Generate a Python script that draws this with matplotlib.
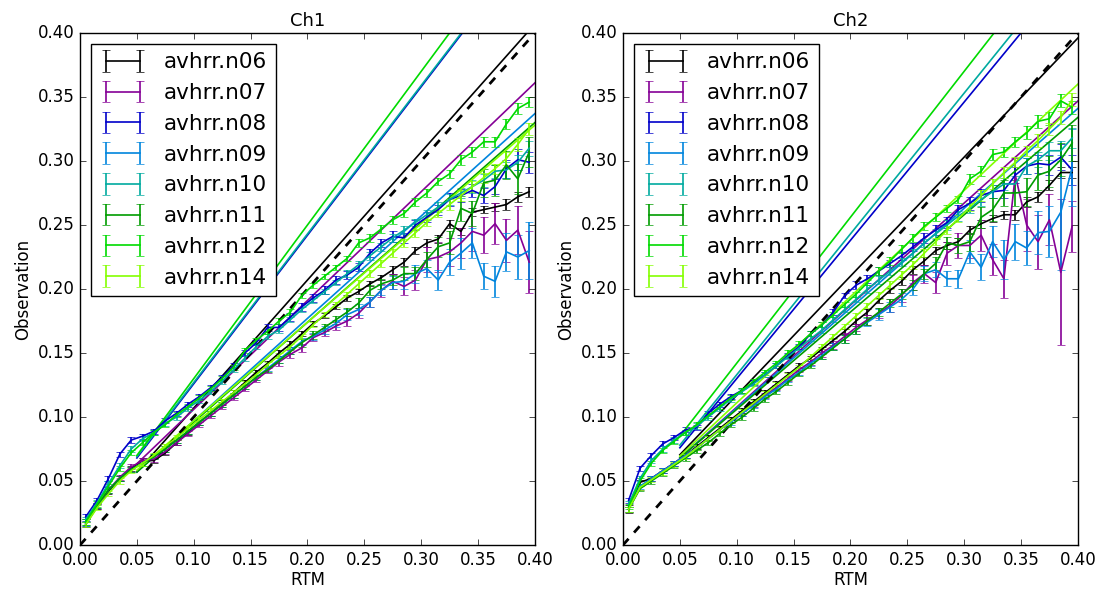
import matplotlib
matplotlib.use("Agg")
import matplotlib.pyplot as plt
import numpy as np

plt.style.use("classic")
plt.rcParams["font.family"] = ["DejaVu Sans"]
plt.rcParams["figure.facecolor"] = "white"

satellites = ["avhrr.n06", "avhrr.n07", "avhrr.n08", "avhrr.n09",
              "avhrr.n10", "avhrr.n11", "avhrr.n12", "avhrr.n14"]

# RTM bin centres
rtm = [0.005, 0.015, 0.025, 0.035, 0.045, 0.055, 0.065, 0.075, 0.085, 0.095,
       0.105, 0.115, 0.125, 0.135, 0.145, 0.155, 0.165, 0.175, 0.185, 0.195,
       0.205, 0.215, 0.225, 0.235, 0.245, 0.255, 0.265, 0.275, 0.285, 0.295,
       0.305, 0.315, 0.325, 0.335, 0.345, 0.355, 0.365, 0.375, 0.385, 0.395]

# ---- Ch1 observations ----
ch1_n06 = [0.016, 0.030, 0.042, 0.052, 0.060, 0.066, 0.066, 0.072, 0.080, 0.088,
           0.096, 0.103, 0.111, 0.119, 0.127, 0.135, 0.142, 0.150, 0.157, 0.165,
           0.173, 0.179, 0.186, 0.193, 0.198, 0.204, 0.209, 0.215, 0.221, 0.230,
           0.236, 0.239, 0.251, 0.245, 0.260, 0.262, 0.264, 0.266, 0.272, 0.276]
ch1_n07 = [0.017, 0.030, 0.043, 0.053, 0.061, 0.066, 0.067, 0.073, 0.080, 0.087,
           0.094, 0.101, 0.108, 0.115, 0.122, 0.129, 0.136, 0.143, 0.149, 0.154,
           0.162, 0.166, 0.171, 0.175, 0.181, 0.190, 0.199, 0.206, 0.202, 0.207,
           0.223, 0.225, 0.229, 0.236, 0.245, 0.242, 0.251, 0.238, 0.246, 0.221]
ch1_n08 = [0.022, 0.035, 0.052, 0.071, 0.082, 0.085, 0.089, 0.097, 0.103, 0.110,
           0.116, 0.123, 0.131, 0.140, 0.150, 0.158, 0.170, 0.170, 0.178, 0.186,
           0.193, 0.199, 0.207, 0.211, 0.217, 0.228, 0.236, 0.241, 0.240, 0.250,
           0.256, 0.262, 0.270, 0.273, 0.277, 0.273, 0.280, 0.294, 0.301, 0.299]
ch1_n09 = [0.017, 0.031, 0.043, 0.052, 0.059, 0.064, 0.069, 0.075, 0.082, 0.089,
           0.096, 0.103, 0.110, 0.117, 0.124, 0.131, 0.138, 0.145, 0.152, 0.159,
           0.163, 0.168, 0.173, 0.180, 0.184, 0.190, 0.199, 0.205, 0.206, 0.212,
           0.216, 0.207, 0.221, 0.228, 0.236, 0.210, 0.206, 0.229, 0.225, 0.230]
ch1_n10 = [0.020, 0.033, 0.048, 0.062, 0.075, 0.083, 0.088, 0.095, 0.100, 0.107,
           0.113, 0.120, 0.128, 0.137, 0.146, 0.155, 0.163, 0.168, 0.176, 0.184,
           0.191, 0.198, 0.205, 0.212, 0.219, 0.226, 0.233, 0.240, 0.246, 0.252,
           0.258, 0.264, 0.270, 0.275, 0.280, 0.285, 0.292, 0.293, 0.299, 0.310]
ch1_n11 = [0.018, 0.031, 0.043, 0.052, 0.059, 0.064, 0.069, 0.075, 0.082, 0.089,
           0.096, 0.103, 0.110, 0.117, 0.124, 0.131, 0.137, 0.144, 0.151, 0.158,
           0.164, 0.170, 0.176, 0.182, 0.189, 0.199, 0.204, 0.207, 0.212, 0.212,
           0.223, 0.233, 0.236, 0.263, 0.259, 0.283, 0.285, 0.297, 0.286, 0.307]
ch1_n12 = [0.018, 0.032, 0.046, 0.060, 0.072, 0.080, 0.088, 0.094, 0.102, 0.108,
           0.115, 0.122, 0.130, 0.139, 0.152, 0.160, 0.167, 0.175, 0.182, 0.195,
           0.203, 0.210, 0.217, 0.224, 0.236, 0.240, 0.247, 0.254, 0.259, 0.268,
           0.275, 0.284, 0.290, 0.301, 0.307, 0.315, 0.315, 0.329, 0.341, 0.346]
ch1_n14 = [0.016, 0.029, 0.040, 0.050, 0.058, 0.064, 0.070, 0.077, 0.084, 0.091,
           0.098, 0.105, 0.112, 0.119, 0.126, 0.133, 0.141, 0.148, 0.155, 0.163,
           0.172, 0.180, 0.188, 0.196, 0.204, 0.212, 0.220, 0.228, 0.236, 0.244,
           0.252, 0.259, 0.266, 0.273, 0.280, 0.287, 0.294, 0.302, 0.313, 0.325]

# ---- Ch1 standard errors ----
ch1_e06 = [0.002, 0.002, 0.002, 0.002, 0.002, 0.002, 0.002, 0.002, 0.002, 0.002,
           0.002, 0.002, 0.002, 0.002, 0.002, 0.002, 0.002, 0.002, 0.002, 0.002,
           0.002, 0.002, 0.002, 0.002, 0.002, 0.002, 0.002, 0.003, 0.003, 0.003,
           0.003, 0.003, 0.003, 0.003, 0.003, 0.003, 0.003, 0.004, 0.004, 0.004]
ch1_e07 = [0.002, 0.002, 0.002, 0.002, 0.002, 0.002, 0.002, 0.002, 0.002, 0.002,
           0.002, 0.002, 0.002, 0.002, 0.002, 0.002, 0.002, 0.003, 0.003, 0.003,
           0.003, 0.003, 0.003, 0.004, 0.004, 0.004, 0.005, 0.006, 0.007, 0.008,
           0.010, 0.012, 0.011, 0.012, 0.015, 0.014, 0.016, 0.017, 0.019, 0.024]
ch1_e08 = [0.002, 0.002, 0.002, 0.002, 0.002, 0.002, 0.002, 0.002, 0.002, 0.002,
           0.002, 0.002, 0.002, 0.002, 0.002, 0.002, 0.003, 0.003, 0.003, 0.003,
           0.003, 0.003, 0.003, 0.003, 0.003, 0.003, 0.003, 0.004, 0.004, 0.004,
           0.004, 0.004, 0.005, 0.005, 0.005, 0.006, 0.006, 0.007, 0.008, 0.008]
ch1_e09 = [0.002, 0.002, 0.002, 0.002, 0.002, 0.002, 0.002, 0.002, 0.002, 0.002,
           0.002, 0.002, 0.002, 0.002, 0.002, 0.002, 0.002, 0.003, 0.003, 0.003,
           0.003, 0.003, 0.003, 0.004, 0.004, 0.004, 0.004, 0.005, 0.006, 0.007,
           0.007, 0.008, 0.010, 0.012, 0.012, 0.010, 0.012, 0.015, 0.017, 0.022]
ch1_e10 = [0.002, 0.002, 0.002, 0.002, 0.002, 0.002, 0.002, 0.002, 0.002, 0.002,
           0.002, 0.002, 0.002, 0.002, 0.002, 0.002, 0.002, 0.002, 0.002, 0.002,
           0.002, 0.002, 0.002, 0.003, 0.003, 0.003, 0.003, 0.003, 0.003, 0.003,
           0.004, 0.004, 0.004, 0.004, 0.005, 0.005, 0.005, 0.006, 0.006, 0.006]
ch1_e11 = [0.002, 0.002, 0.002, 0.002, 0.002, 0.002, 0.002, 0.002, 0.002, 0.002,
           0.002, 0.002, 0.002, 0.002, 0.002, 0.002, 0.002, 0.002, 0.002, 0.003,
           0.003, 0.003, 0.003, 0.003, 0.004, 0.004, 0.004, 0.004, 0.005, 0.005,
           0.006, 0.008, 0.009, 0.010, 0.010, 0.011, 0.012, 0.011, 0.012, 0.012]
ch1_e12 = [0.002, 0.002, 0.002, 0.002, 0.002, 0.002, 0.002, 0.002, 0.002, 0.002,
           0.002, 0.002, 0.002, 0.002, 0.002, 0.002, 0.002, 0.002, 0.002, 0.002,
           0.002, 0.002, 0.002, 0.002, 0.003, 0.003, 0.003, 0.003, 0.003, 0.003,
           0.003, 0.003, 0.003, 0.004, 0.004, 0.004, 0.004, 0.004, 0.004, 0.004]
ch1_e14 = [0.002, 0.002, 0.002, 0.002, 0.002, 0.002, 0.002, 0.002, 0.002, 0.002,
           0.002, 0.002, 0.002, 0.002, 0.002, 0.002, 0.002, 0.002, 0.002, 0.002,
           0.002, 0.002, 0.002, 0.002, 0.003, 0.003, 0.003, 0.003, 0.003, 0.003,
           0.003, 0.003, 0.004, 0.004, 0.004, 0.004, 0.004, 0.005, 0.005, 0.005]

# ---- Ch2 observations ----
ch2_n06 = [0.028, 0.049, 0.052, 0.058, 0.064, 0.070, 0.077, 0.084, 0.091, 0.098,
           0.105, 0.112, 0.119, 0.126, 0.133, 0.140, 0.146, 0.153, 0.160, 0.167,
           0.175, 0.182, 0.191, 0.199, 0.206, 0.215, 0.222, 0.230, 0.234, 0.237,
           0.246, 0.251, 0.255, 0.258, 0.258, 0.268, 0.272, 0.281, 0.291, 0.291]
ch2_n07 = [0.028, 0.045, 0.052, 0.058, 0.064, 0.070, 0.076, 0.083, 0.090, 0.097,
           0.103, 0.110, 0.117, 0.123, 0.130, 0.137, 0.143, 0.150, 0.156, 0.163,
           0.170, 0.176, 0.181, 0.187, 0.195, 0.205, 0.212, 0.205, 0.228, 0.234,
           0.234, 0.242, 0.223, 0.208, 0.289, 0.250, 0.237, 0.254, 0.213, 0.249]
ch2_n08 = [0.035, 0.060, 0.070, 0.079, 0.084, 0.090, 0.092, 0.103, 0.110, 0.116,
           0.121, 0.127, 0.133, 0.140, 0.148, 0.155, 0.165, 0.172, 0.182, 0.195,
           0.203, 0.208, 0.214, 0.220, 0.226, 0.233, 0.240, 0.246, 0.252, 0.262,
           0.267, 0.273, 0.276, 0.277, 0.289, 0.296, 0.298, 0.297, 0.303, 0.293]
ch2_n09 = [0.028, 0.046, 0.052, 0.058, 0.064, 0.070, 0.076, 0.083, 0.090, 0.096,
           0.103, 0.109, 0.116, 0.122, 0.129, 0.135, 0.142, 0.148, 0.155, 0.161,
           0.168, 0.174, 0.180, 0.186, 0.192, 0.200, 0.212, 0.215, 0.208, 0.208,
           0.229, 0.217, 0.237, 0.223, 0.237, 0.232, 0.244, 0.245, 0.260, 0.295]
ch2_n10 = [0.032, 0.052, 0.066, 0.075, 0.082, 0.088, 0.093, 0.100, 0.107, 0.114,
           0.120, 0.126, 0.133, 0.140, 0.147, 0.154, 0.161, 0.168, 0.176, 0.184,
           0.192, 0.200, 0.207, 0.214, 0.221, 0.228, 0.236, 0.243, 0.250, 0.257,
           0.263, 0.270, 0.276, 0.282, 0.282, 0.296, 0.301, 0.308, 0.308, 0.318]
ch2_n11 = [0.028, 0.044, 0.050, 0.056, 0.062, 0.068, 0.074, 0.080, 0.087, 0.094,
           0.100, 0.107, 0.114, 0.120, 0.127, 0.134, 0.140, 0.147, 0.154, 0.161,
           0.168, 0.175, 0.182, 0.189, 0.196, 0.203, 0.212, 0.220, 0.236, 0.234,
           0.237, 0.256, 0.262, 0.275, 0.275, 0.276, 0.289, 0.292, 0.301, 0.314]
ch2_n12 = [0.030, 0.050, 0.064, 0.074, 0.081, 0.088, 0.094, 0.101, 0.108, 0.115,
           0.121, 0.128, 0.135, 0.142, 0.150, 0.157, 0.165, 0.172, 0.180, 0.188,
           0.196, 0.205, 0.214, 0.222, 0.231, 0.240, 0.249, 0.256, 0.263, 0.270,
           0.286, 0.292, 0.305, 0.307, 0.315, 0.322, 0.331, 0.333, 0.347, 0.342]
ch2_n14 = [0.028, 0.045, 0.051, 0.057, 0.063, 0.069, 0.076, 0.083, 0.090, 0.097,
           0.104, 0.111, 0.118, 0.125, 0.132, 0.139, 0.147, 0.155, 0.163, 0.171,
           0.179, 0.187, 0.195, 0.203, 0.211, 0.219, 0.228, 0.237, 0.246, 0.255,
           0.264, 0.273, 0.282, 0.291, 0.299, 0.308, 0.316, 0.325, 0.334, 0.348]

# ---- Ch2 standard errors ----
ch2_e06 = [0.003, 0.002, 0.002, 0.002, 0.002, 0.002, 0.002, 0.002, 0.002, 0.002,
           0.002, 0.002, 0.002, 0.002, 0.002, 0.002, 0.002, 0.002, 0.002, 0.002,
           0.002, 0.002, 0.002, 0.002, 0.003, 0.003, 0.003, 0.003, 0.003, 0.003,
           0.003, 0.003, 0.003, 0.003, 0.004, 0.004, 0.004, 0.004, 0.004, 0.004]
ch2_e07 = [0.002, 0.002, 0.002, 0.002, 0.002, 0.002, 0.002, 0.002, 0.002, 0.002,
           0.002, 0.002, 0.002, 0.002, 0.002, 0.002, 0.002, 0.003, 0.003, 0.003,
           0.003, 0.004, 0.004, 0.005, 0.005, 0.006, 0.007, 0.008, 0.009, 0.010,
           0.010, 0.012, 0.012, 0.015, 0.013, 0.020, 0.021, 0.020, 0.057, 0.020]
ch2_e08 = [0.002, 0.002, 0.002, 0.002, 0.002, 0.002, 0.002, 0.002, 0.002, 0.002,
           0.002, 0.002, 0.002, 0.002, 0.002, 0.002, 0.002, 0.002, 0.002, 0.002,
           0.003, 0.003, 0.003, 0.003, 0.003, 0.003, 0.004, 0.004, 0.004, 0.004,
           0.005, 0.005, 0.005, 0.006, 0.006, 0.006, 0.007, 0.008, 0.010, 0.012]
ch2_e09 = [0.002, 0.002, 0.002, 0.002, 0.002, 0.002, 0.002, 0.002, 0.002, 0.002,
           0.002, 0.002, 0.002, 0.002, 0.002, 0.002, 0.002, 0.003, 0.003, 0.003,
           0.003, 0.003, 0.004, 0.004, 0.005, 0.005, 0.006, 0.006, 0.006, 0.007,
           0.009, 0.010, 0.012, 0.015, 0.014, 0.013, 0.017, 0.020, 0.045, 0.030]
ch2_e10 = [0.002, 0.002, 0.002, 0.002, 0.002, 0.002, 0.002, 0.002, 0.002, 0.002,
           0.002, 0.002, 0.002, 0.002, 0.002, 0.002, 0.002, 0.002, 0.002, 0.002,
           0.002, 0.003, 0.003, 0.003, 0.003, 0.003, 0.003, 0.004, 0.004, 0.004,
           0.004, 0.005, 0.005, 0.005, 0.006, 0.006, 0.006, 0.007, 0.008, 0.008]
ch2_e11 = [0.002, 0.002, 0.002, 0.002, 0.002, 0.002, 0.002, 0.002, 0.002, 0.002,
           0.002, 0.002, 0.002, 0.002, 0.002, 0.002, 0.002, 0.002, 0.002, 0.003,
           0.003, 0.003, 0.003, 0.003, 0.004, 0.004, 0.004, 0.005, 0.005, 0.006,
           0.007, 0.008, 0.009, 0.010, 0.010, 0.011, 0.012, 0.012, 0.013, 0.014]
ch2_e12 = [0.002, 0.002, 0.002, 0.002, 0.002, 0.002, 0.002, 0.002, 0.002, 0.002,
           0.002, 0.002, 0.002, 0.002, 0.002, 0.002, 0.002, 0.002, 0.002, 0.002,
           0.002, 0.002, 0.003, 0.003, 0.003, 0.003, 0.003, 0.003, 0.003, 0.003,
           0.004, 0.004, 0.004, 0.004, 0.004, 0.005, 0.005, 0.005, 0.005, 0.005]
ch2_e14 = [0.002, 0.002, 0.002, 0.002, 0.002, 0.002, 0.002, 0.002, 0.002, 0.002,
           0.002, 0.002, 0.002, 0.002, 0.002, 0.002, 0.002, 0.002, 0.002, 0.002,
           0.002, 0.002, 0.003, 0.003, 0.003, 0.003, 0.003, 0.003, 0.003, 0.003,
           0.003, 0.004, 0.004, 0.004, 0.004, 0.004, 0.005, 0.005, 0.005, 0.005]

# linear fit per satellite (slope, intercept), drawn over fit_range
ch1_slope = [1.00, 0.85, 1.16, 0.80, 1.16, 0.78, 1.20, 0.77]
ch1_icept = [0.007, 0.021, 0.010, 0.017, 0.011, 0.018, 0.010, 0.020]
ch2_slope = [0.93, 0.797, 1.08, 0.78, 1.10, 0.76, 1.14, 0.83]
ch2_icept = [0.024, 0.028, 0.022, 0.029, 0.023, 0.030, 0.028, 0.028]
fit_range = [0.05, 0.40]

channels = [
    ("Ch1",
     [ch1_n06, ch1_n07, ch1_n08, ch1_n09, ch1_n10, ch1_n11, ch1_n12, ch1_n14],
     [ch1_e06, ch1_e07, ch1_e08, ch1_e09, ch1_e10, ch1_e11, ch1_e12, ch1_e14],
     ch1_slope, ch1_icept),
    ("Ch2",
     [ch2_n06, ch2_n07, ch2_n08, ch2_n09, ch2_n10, ch2_n11, ch2_n12, ch2_n14],
     [ch2_e06, ch2_e07, ch2_e08, ch2_e09, ch2_e10, ch2_e11, ch2_e12, ch2_e14],
     ch2_slope, ch2_icept),
]

colors = [plt.cm.nipy_spectral(i / 11.0) for i in range(len(satellites))]

fig = plt.figure(figsize=(11.04, 5.91), dpi=100)
lefts = [0.0725, 0.5643]
fx = np.array(fit_range)

for left, (title, obs, errs, slopes, icepts) in zip(lefts, channels):
    ax = fig.add_axes([left, 0.0778, 0.412, 0.8664])
    for name, y, e, c, m, b in zip(satellites, obs, errs, colors, slopes, icepts):
        ax.errorbar(rtm, y, yerr=e, color=c, ecolor=c, lw=1.2, capsize=3,
                    label=name)
        ax.plot(fx, m * fx + b, color=c, lw=1.2)
    ax.plot([0, 0.4], [0, 0.4], "k--", lw=2)
    ax.set_xlim(0, 0.4)
    ax.set_ylim(0, 0.4)
    ax.set_xticks(np.arange(0, 0.41, 0.05))
    ax.set_yticks(np.arange(0, 0.41, 0.05))
    ax.xaxis.set_major_formatter(plt.FormatStrFormatter("%.2f"))
    ax.yaxis.set_major_formatter(plt.FormatStrFormatter("%.2f"))
    ax.tick_params(labelsize=12)
    ax.set_title(title, fontsize=13)
    ax.set_xlabel("RTM", fontsize=12, labelpad=2)
    ax.set_ylabel("Observation", fontsize=12, labelpad=4)
    ax.legend(loc="upper left", fontsize=15.5, numpoints=2, handlelength=2.2)

fig.savefig("out.png", dpi=100, facecolor="white")
